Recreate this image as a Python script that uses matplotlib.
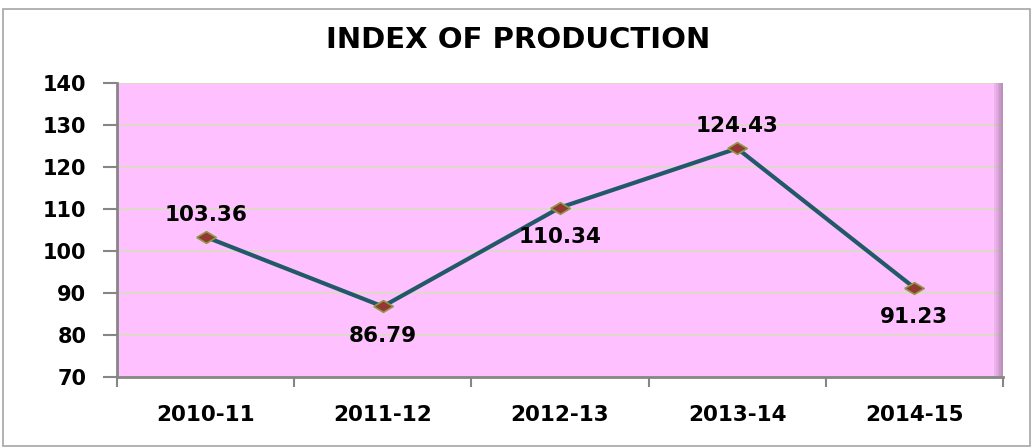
import matplotlib.pyplot as plt
from matplotlib.patches import Rectangle

# data
years = ["2010-11", "2011-12", "2012-13", "2013-14", "2014-15"]
index_vals = [103.36, 86.79, 110.34, 124.43, 91.23]
label_pos = ["above", "below", "below", "above", "below"]

plt.rcParams['font.family'] = ['DejaVu Sans']

fig = plt.figure(figsize=(10.33, 4.48), dpi=100)
W, H = 1033, 448
ax = fig.add_axes([117 / W, 1 - 377 / H, (1003 - 117) / W, (377 - 83) / H])

# outer chart border
fig.patches.append(Rectangle((3 / W, 2 / H), 1027 / W, 1 - 11 / H, transform=fig.transFigure,
                             fill=False, edgecolor="#a6a6a6", linewidth=1.2))

ax.set_facecolor("#ffc0ff")
x = range(len(years))
# flattened diamond like the original markers
flat_diamond = [(-1, 0), (0, 0.6), (1, 0), (0, -0.6), (-1, 0)]
ax.plot(x, index_vals, color="#215968", linewidth=3, zorder=3)
ax.plot(x, index_vals, linestyle="None", marker=flat_diamond, markersize=14,
        markerfacecolor="#953735", markeredgecolor="#8a9a40", markeredgewidth=1.2, zorder=4)

for i, (v, p) in enumerate(zip(index_vals, label_pos)):
    off = 16 if p == "above" else -21
    ax.annotate(f"{v:.2f}", xy=(i, v), xytext=(0, off), textcoords="offset points",
                ha="center", va="center", fontsize=15.5, fontweight="bold")

ax.set_xlim(-0.5, len(years) - 0.5)
ax.set_ylim(70, 140)
ax.set_yticks(range(70, 141, 10))
ax.set_xticks(x)
ax.set_xticklabels(years)
ax.set_xticks([i - 0.5 for i in range(len(years) + 1)], minor=True)
ax.tick_params(axis="x", which="major", length=0, pad=20, labelsize=15.5)
ax.tick_params(axis="x", which="minor", length=7, color="#868686", width=1.5)
ax.tick_params(axis="y", length=10, color="#868686", width=1.5, labelsize=15, pad=12)
for lab in ax.get_xticklabels() + ax.get_yticklabels():
    lab.set_fontweight("bold")

ax.grid(axis="y", color="#d8dcc0", linewidth=1.2)
ax.set_axisbelow(True)
for s in ["top", "right"]:
    ax.spines[s].set_visible(False)
for s in ["left", "bottom"]:
    ax.spines[s].set_color("#868686")
    ax.spines[s].set_linewidth(2)

# soft shadow on right edge of plot area
for k, a in enumerate([0.15, 0.25, 0.35, 0.45, 0.55]):
    ax.add_patch(Rectangle((0.99 + k * 0.002, 0), 0.002, 1, transform=ax.transAxes,
                           color="#8a6a8a", alpha=a, zorder=1, linewidth=0))

fig.text(518 / W, 1 - 40 / H, "INDEX OF PRODUCTION", ha="center", va="center",
         fontsize=21, fontweight="bold")

fig.savefig("out.png", dpi=100)
